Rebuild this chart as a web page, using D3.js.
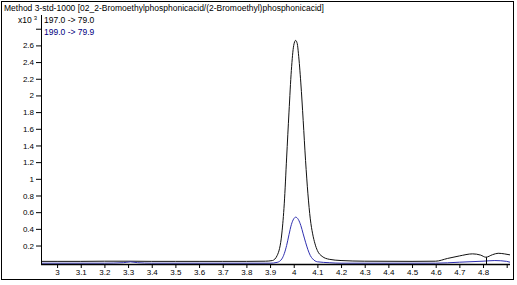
<!DOCTYPE html>
<html><head><meta charset="utf-8">
<script src="https://cdn.jsdelivr.net/npm/d3@7"></script>
<style>
body{margin:0;background:#fff;}
svg text{font-family:"Liberation Sans",Arial,sans-serif;}
</style></head>
<body><svg id="c" width="517" height="285"></svg>
<script>
const title = "Method 3-std-1000 [02_2-Bromoethylphosphonicacid/(2-Bromoethyl)phosphonicacid]";
const seriesNames = ["197.0 -> 79.0", "199.0 -> 79.9"];
const xTicks = [3,3.1,3.2,3.3,3.4,3.5,3.6,3.7,3.8,3.9,4,4.1,4.2,4.3,4.4,4.5,4.6,4.7,4.8,4.9];
const xTickLabels = ["3","3.1","3.2","3.3","3.4","3.5","3.6","3.7","3.8","3.9","4","4.1","4.2","4.3","4.4","4.5","4.6","4.7","4.8",""];
const yTicks = [0.2,0.4,0.6,0.8,1,1.2,1.4,1.6,1.8,2,2.2,2.4,2.6,2.8];
const yTickLabels = ["0.2","0.4","0.6","0.8","1","1.2","1.4","1.6","1.8","2","2.2","2.4","2.6",""];
const blackRT  = [2.93,3.0,3.1,3.2,3.3,3.4,3.5,3.6,3.7,3.8,3.88,3.91,3.93,3.95,3.96,3.97,3.98,3.99,4.0,4.008,4.015,4.02,4.03,4.04,4.05,4.06,4.07,4.08,4.09,4.10,4.12,4.15,4.2,4.3,4.5,4.6,4.65,4.7,4.756,4.79,4.812,4.84,4.864,4.89,4.914];
const blackVal = [0.01,0.01,0.01,0.012,0.012,0.01,0.01,0.01,0.01,0.01,0.012,0.02,0.08,0.35,0.70,1.25,1.80,2.30,2.60,2.66,2.62,2.50,2.15,1.70,1.22,0.82,0.52,0.34,0.22,0.14,0.07,0.035,0.02,0.012,0.01,0.012,0.045,0.075,0.10,0.085,0.06,0.09,0.107,0.10,0.088];
const blueRT  = [2.93,3.2,3.28,3.31,3.34,3.4,3.9,3.93,3.95,3.97,3.98,3.99,4.0,4.008,4.02,4.03,4.04,4.05,4.06,4.07,4.08,4.10,4.15,4.2,4.6,4.7,4.8,4.85,4.9,4.914];
const blueVal = [-0.012,-0.012,-0.006,0.004,-0.006,-0.012,-0.012,-0.002,0.04,0.20,0.33,0.45,0.52,0.54,0.51,0.44,0.34,0.24,0.15,0.08,0.04,0.005,-0.006,-0.012,-0.012,0.0,0.012,0.02,0.01,0.0];
const markerRT = 4.812;

const svg = d3.select("#c");
const L = 41, R = 510, T = 15, B = 264;
const x = d3.scaleLinear().domain([2.932, 4.914]).range([L, R]);
const y = d3.scaleLinear().domain([0, 2.6]).range([262.2, 45.4]);

svg.append("rect").attr("x",1.5).attr("y",1.5).attr("width",512).attr("height",278)
  .attr("fill","none").attr("stroke","#000");

svg.append("text").attr("x",4).attr("y",11).style("font-size","8.5px").text(title);
const xt = svg.append("text").attr("x",18).attr("y",23).style("font-size","8.5px");
xt.append("tspan").text("x10");
xt.append("tspan").attr("dx",2).attr("dy",-3).style("font-size","6px").text("3");
svg.append("text").attr("x",44).attr("y",23).style("font-size","8.5px").attr("fill","#000").text(seriesNames[0]);
svg.append("text").attr("x",44).attr("y",35).style("font-size","8.5px").attr("fill","#000080").text(seriesNames[1]);

const line = d3.line().x(d=>x(d[0])).y(d=>y(d[1])).curve(d3.curveMonotoneX);
const defs = svg.append("defs");
defs.append("clipPath").attr("id","clip").append("rect").attr("x",L).attr("y",T).attr("width",R-L).attr("height",B-T);
const g = svg.append("g").attr("clip-path","url(#clip)");
g.append("path").datum(blackRT.map((t,i)=>[t,blackVal[i]])).attr("d",line)
  .attr("fill","none").attr("stroke","#111").attr("stroke-width",1);
g.append("path").datum(blueRT.map((t,i)=>[t,blueVal[i]])).attr("d",line)
  .attr("fill","none").attr("stroke","#2f2fb0").attr("stroke-width",1);

// marker line
const mi = blackRT.indexOf(markerRT);
svg.append("line").attr("x1",Math.round(x(markerRT))+0.5).attr("x2",Math.round(x(markerRT))+0.5)
  .attr("y1",y(blackVal[mi])).attr("y2",B).attr("stroke","#000");

// axes
const xa = d3.axisBottom(x).tickValues(xTicks).tickSize(4).tickPadding(1)
  .tickFormat((d,i)=>xTickLabels[i]);
const gx = svg.append("g").attr("transform",`translate(0,${B})`).call(xa);
gx.select(".domain").attr("d",`M${L},0.5H${R}`).attr("stroke-width",1.3);
gx.selectAll("text").style("font-size","8px");
const ya = d3.axisLeft(y).tickValues(yTicks).tickSize(5).tickPadding(2)
  .tickFormat((d,i)=>yTickLabels[i]);
const gy = svg.append("g").attr("transform",`translate(${L},0)`).call(ya);
gy.select(".domain").attr("d",`M0.5,${T}V${B}`);
gy.selectAll("text").style("font-size","8px");
</script></body></html>
